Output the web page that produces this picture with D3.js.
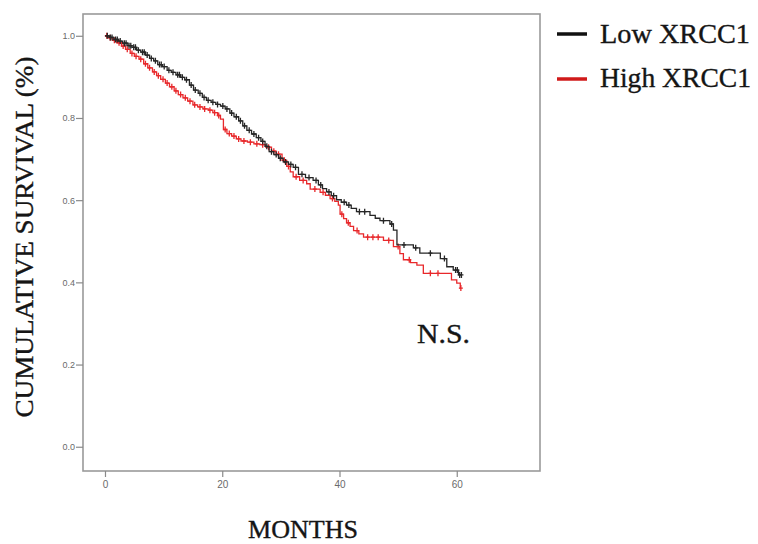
<!DOCTYPE html>
<html>
<head>
<meta charset="utf-8">
<script src="https://cdn.jsdelivr.net/npm/d3@7"></script>
<style>
  html, body { margin: 0; padding: 0; background: #fff; }
  svg { display: block; }
</style>
</head>
<body>
<svg id="chart" width="758" height="544"></svg>
<script>
// Kaplan–Meier survival by XRCC1 expression (months vs. cumulative survival)
const seriesNames = ["Low XRCC1", "High XRCC1"];

// Low XRCC1: event times (months) and survival after each step
const lowTimes = [0, 0.8, 1.5, 2.3, 3.0, 3.9, 4.6, 5.4, 6.1, 6.9, 7.6, 8.3, 9.0, 9.8, 10.6, 11.3, 12.1, 12.9,
  13.6, 14.4, 15.1, 15.9, 16.6, 17.3, 18.1, 18.9, 19.7, 20.5, 21.3, 22.0, 22.8, 23.5, 24.2, 25.0, 25.8, 26.6,
  27.3, 28.0, 28.8, 29.6, 30.4, 31.3, 32.1, 33.0, 34.2, 35.5, 36.4, 37.1, 37.8, 38.6, 39.5, 40.3, 41.2, 42.0,
  42.9, 45.2, 46.1, 46.9, 48.6, 49.2, 49.8, 52.6, 53.7, 57.2, 58.3, 59.4, 60.3];
const lowSurv = [1.000, 0.996, 0.991, 0.987, 0.982, 0.976, 0.972, 0.965, 0.960, 0.953, 0.945, 0.939, 0.930, 0.925,
  0.916, 0.911, 0.905, 0.899, 0.893, 0.880, 0.868, 0.860, 0.850, 0.843, 0.838, 0.833, 0.829, 0.822, 0.812, 0.803,
  0.793, 0.781, 0.770, 0.761, 0.752, 0.743, 0.731, 0.718, 0.711, 0.702, 0.693, 0.687, 0.680, 0.663, 0.655, 0.648,
  0.637, 0.628, 0.620, 0.611, 0.601, 0.595, 0.588, 0.580, 0.572, 0.563, 0.556, 0.550, 0.542, 0.527, 0.491, 0.484,
  0.471, 0.458, 0.438, 0.430, 0.418];
const lowLast = 60.8;
const lowCensored = [0.4, 0.9, 1.2, 1.8, 2.1, 2.6, 3.3, 3.6, 4.1, 4.4, 4.9, 5.2, 5.7, 6.4, 6.7, 7.2, 7.9, 8.6, 9.3,
  9.6, 10.1, 10.9, 11.6, 12.4, 12.7, 13.2, 13.9, 14.7, 15.4, 16.2, 16.9, 17.6, 18.4, 19.2, 20.1, 20.8, 21.6, 22.4,
  23.1, 23.8, 24.6, 25.4, 26.2, 26.9, 27.6, 28.4, 29.2, 29.9, 30.8, 31.7, 32.5, 33.6, 34.8, 36.0, 36.8, 38.2, 39.0,
  40.8, 41.6, 43.4, 44.3, 47.5, 48.9, 51.0, 53.0, 55.5, 57.9, 59.8, 60.1, 60.5, 60.8];

// High XRCC1
const highTimes = [0, 0.6, 1.3, 2.0, 2.8, 3.5, 4.3, 5.0, 5.8, 6.6, 7.3, 8.1, 8.8, 9.5, 10.3, 11.0, 11.8, 12.5,
  13.3, 14.1, 15.0, 15.8, 16.7, 17.6, 18.4, 19.2, 19.7, 20.2, 20.8, 21.6, 22.4, 23.2, 24.3, 25.4, 26.4, 27.4,
  28.4, 29.2, 30.2, 31.0, 31.6, 32.1, 33.2, 34.4, 35.0, 36.7, 37.6, 38.4, 39.2, 39.8, 40.1, 40.7, 41.2, 41.8,
  42.4, 43.3, 44.1, 47.5, 49.2, 50.3, 50.9, 52.1, 53.2, 54.3, 59.1, 60.0, 60.6];
const highSurv = [1.000, 0.995, 0.989, 0.983, 0.975, 0.967, 0.957, 0.950, 0.943, 0.932, 0.922, 0.912, 0.903, 0.894,
  0.885, 0.876, 0.866, 0.857, 0.849, 0.841, 0.832, 0.827, 0.822, 0.819, 0.813, 0.806, 0.797, 0.772, 0.762, 0.756,
  0.749, 0.744, 0.741, 0.737, 0.735, 0.729, 0.719, 0.712, 0.697, 0.682, 0.669, 0.657, 0.648, 0.640, 0.627, 0.619,
  0.612, 0.604, 0.597, 0.588, 0.566, 0.555, 0.545, 0.536, 0.526, 0.518, 0.510, 0.502, 0.487, 0.470, 0.455, 0.448,
  0.442, 0.422, 0.406, 0.398, 0.386];
const highLast = 60.7;
const highCensored = [0.3, 0.9, 1.6, 2.4, 3.1, 3.8, 4.6, 5.3, 6.1, 6.9, 7.6, 8.4, 9.1, 9.9, 10.6, 11.4, 12.1, 12.9,
  13.7, 14.5, 15.3, 16.2, 17.0, 17.9, 18.7, 19.4, 20.5, 21.2, 22.0, 22.8, 23.7, 24.8, 25.9, 26.9, 27.9, 28.8, 29.6,
  30.6, 31.3, 32.6, 33.8, 35.8, 37.2, 38.8, 40.4, 41.5, 43.0, 44.8, 45.7, 46.6, 48.4, 50.0, 51.9, 55.5, 56.8, 60.7];

const xTicks = [0, 20, 40, 60];
const yTicks = [0.0, 0.2, 0.4, 0.6, 0.8, 1.0];

const svg = d3.select("#chart");
const plot = { left: 83, right: 540, top: 14, bottom: 471 };

const x = d3.scaleLinear().domain([-3.75, 74.2]).range([plot.left, plot.right]);
const y = d3.scaleLinear().domain([-0.059, 1.053]).range([plot.bottom, plot.top]);

const serif = "'Liberation Serif', 'Times New Roman', serif";

// plot frame
svg.append("rect")
  .attr("x", plot.left).attr("y", plot.top)
  .attr("width", plot.right - plot.left).attr("height", plot.bottom - plot.top)
  .attr("fill", "none").attr("stroke", "#9a9a9a").attr("stroke-width", 1.6);

// axes
const yAxis = svg.append("g")
  .attr("transform", `translate(${plot.left},0)`)
  .call(d3.axisLeft(y).tickValues(yTicks).tickSize(7).tickPadding(1).tickFormat(d3.format(".1f")));
const xAxis = svg.append("g")
  .attr("transform", `translate(0,${plot.bottom})`)
  .call(d3.axisBottom(x).tickValues(xTicks).tickSize(6).tickPadding(4).tickFormat(d3.format("d")));
[yAxis, xAxis].forEach(g => {
  g.select(".domain").remove();
  g.selectAll(".tick line").attr("stroke", "#8a8a8a").attr("stroke-width", 1.2);
  g.selectAll(".tick text").attr("fill", "#6a6a6a")
    .style("font-family", "'Liberation Sans', Arial, sans-serif");
});
yAxis.selectAll(".tick text").style("font-size", "9px");
xAxis.selectAll(".tick text").style("font-size", "10px");

// survival curves
const groups = [
  { times: lowTimes, surv: lowSurv, last: lowLast, censored: lowCensored, color: "#262626" },
  { times: highTimes, surv: highSurv, last: highLast, censored: highCensored, color: "#e8282b" }
];

const line = d3.line().x(d => x(d[0])).y(d => y(d[1])).curve(d3.curveStepAfter);
const bis = d3.bisector(d => d).right;

// draw low last so it sits on top where the curves overlap
groups.slice().reverse().forEach(gr => {
  const pts = gr.times.map((t, i) => [t, gr.surv[i]]);
  pts.push([gr.last, gr.surv[gr.surv.length - 1]]);
  svg.append("path").datum(pts)
    .attr("d", line).attr("fill", "none")
    .attr("stroke", gr.color).attr("stroke-width", 1.3);

  const marks = gr.censored.map(t => {
    const i = Math.max(0, bis(gr.times, t) - 1);
    return [t, gr.surv[i]];
  });
  svg.append("g").selectAll("path").data(marks).join("path")
    .attr("d", d => {
      const cx = x(d[0]), cy = y(d[1]);
      return `M${cx},${cy - 3}V${cy + 3}M${cx - 2},${cy}H${cx + 2}`;
    })
    .attr("stroke", gr.color).attr("stroke-width", 1.3).attr("fill", "none");
});

// shared style for the serif captions
function caption(sel, size, len) {
  return sel.attr("textLength", len).attr("lengthAdjust", "spacingAndGlyphs")
    .style("font-family", serif).style("font-size", size + "px")
    .attr("fill", "#151515").attr("stroke", "#151515").attr("stroke-width", 0.35);
}

// axis titles
caption(svg.append("text")
  .attr("transform", "translate(33,237) rotate(-90)")
  .attr("text-anchor", "middle"), 26, 361)
  .text("CUMULATIVE SURVIVAL (%)");

caption(svg.append("text")
  .attr("x", 303).attr("y", 538)
  .attr("text-anchor", "middle"), 25, 110)
  .text("MONTHS");

// significance note
caption(svg.append("text")
  .attr("x", 417).attr("y", 343), 27, 53)
  .text("N.S.");

// legend
const legendColors = ["#111111", "#d01a1a"];
const legendRows = [{ ly: 34, ty: 43, len: 150 }, { ly: 79, ty: 87, len: 151 }];
seriesNames.forEach((name, i) => {
  const r = legendRows[i];
  svg.append("line")
    .attr("x1", 557).attr("x2", 587).attr("y1", r.ly).attr("y2", r.ly)
    .attr("stroke", legendColors[i]).attr("stroke-width", 3.5);
  caption(svg.append("text")
    .attr("x", 600).attr("y", r.ty), 27, r.len)
    .text(name);
});
</script>
</body>
</html>
